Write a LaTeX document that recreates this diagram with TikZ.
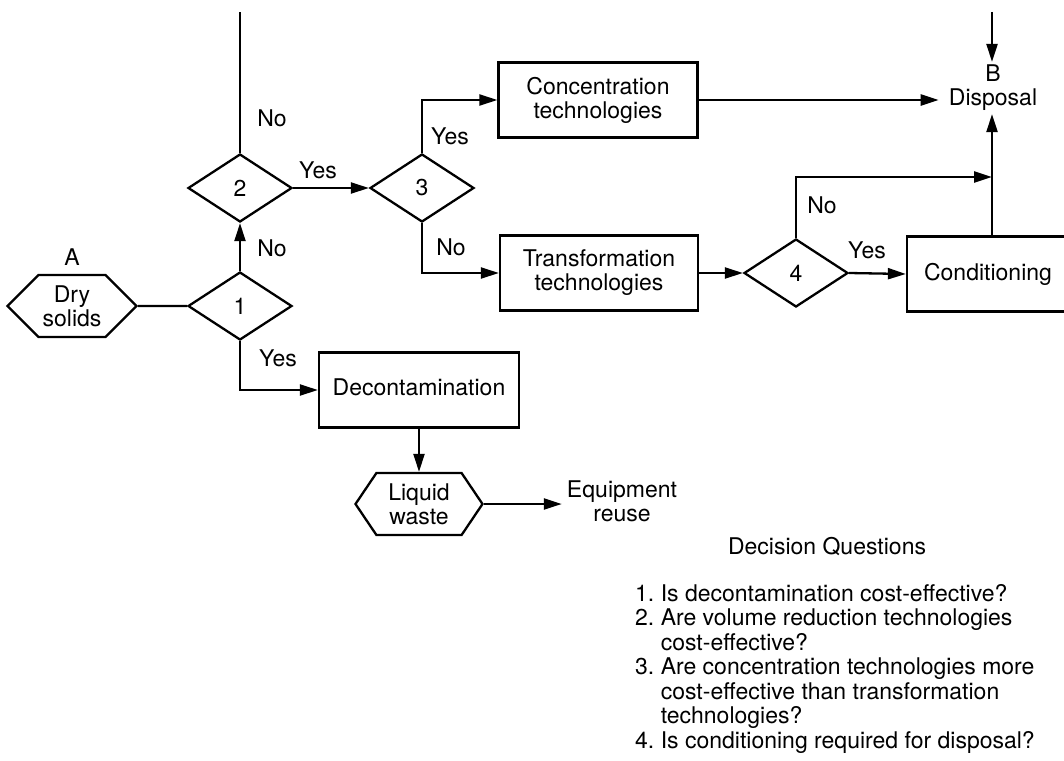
\documentclass[tikz,border=0pt]{standalone}
\usepackage{fontspec}
\setmainfont{TeX Gyre Heros}
\usepackage{tikz}
\usetikzlibrary{shapes.geometric, shapes.symbols, arrows.meta, calc}
\tikzset{
    box/.style={draw=black, line width=2.3pt, rectangle, minimum height=75pt, align=center, inner sep=0pt},
    decision/.style={draw=black, line width=2.3pt, diamond, minimum width=104pt, minimum height=68pt, inner sep=0pt},
    terminal/.style={draw=black, line width=2.3pt, signal, signal to=west and east, minimum height=62pt, align=center, inner sep=0pt},
    lbl/.style={inner sep=1pt, align=center},
    flow/.style={line width=2.3pt, -{Triangle[length=18pt, width=11pt]}},
    link/.style={line width=2.3pt}
}

\begin{document}
\begin{tikzpicture}[x=1pt, y=-1pt, font=\fontsize{23}{24}\selectfont]
    \useasboundingbox (0,0) rectangle (1064,760);

    \node[terminal, minimum width=129pt, signal pointer angle=90] (dry) at (72,306) {Dry\\solids};
    \node[lbl] (labA) at (72,257) {A};
    \node[decision] (q1) at (240,306) {1};
    \node[decision] (q2) at (240,188) {2};
    \node[decision] (q3) at (422,188) {3};
    \node[decision] (q4) at (796,273) {4};
    \node[box, minimum width=199pt] (conc) at (598,100) {Concentration\\technologies};
    \node[box, minimum width=198pt] (trans) at (599,273) {Transformation\\technologies};
    \node[box, minimum width=180pt] (cond) at (997,274) {\hspace*{-18pt}Conditioning};
    \node[box, minimum width=200pt] (decon) at (419,390) {\raisebox{5pt}{Decontamination}};
    \node[terminal, minimum width=127pt, signal pointer angle=112] (liquid) at (419,504) {Liquid\\waste};
    \node[lbl, inner xsep=5pt] (reuse) at (622,501) {Equipment\\reuse};
    \node[lbl, inner xsep=10pt, inner ysep=3pt] (disp) at (993,88) {B\\Disposal};
    \coordinate (topA) at (240,12);
    \coordinate (topB) at (992,12);
    \coordinate (join) at (992,177);

    \draw[link] (dry) -- (q1);
    \draw[flow] (q1.north) -- (q2.south);
    \draw[link] (q2.north) -- (topA);
    \draw[flow] (q2.east) -- (q3.west);
    \draw[flow] (q3.north) |- (conc.west);
    \draw[flow] (q3.south) |- (trans.west);
    \draw[flow] (trans.east) -- (q4.west);
    \draw[flow] (q4.east) -- (cond.west);
    \draw[flow] (q4.north) |- (join);
    \draw[flow] (cond.north -| join) -- (join |- disp.south);
    \draw[flow] (conc.east) -- (conc.east -| disp.west);
    \draw[flow] (topB) -- (topB |- disp.north);
    \draw[flow] (q1.south) |- (decon.west);
    \draw[flow] (decon.south) -- (liquid.north);
    \draw[flow] (liquid.east) -- (liquid.east -| reuse.west);

    \node[lbl] (no12) at (272,248) {No};
    \node[lbl] (no2) at (272,118) {No};
    \node[lbl] (yes23) at (318,170) {Yes};
    \node[lbl] (yes3) at (450,136) {Yes};
    \node[lbl] (no3) at (451,247) {No};
    \node[lbl] (yes1) at (278,358) {Yes};
    \node[lbl] (no4) at (822,205) {No};
    \node[lbl] (yes4) at (867,250) {Yes};

    \node[lbl] (dqtitle) at (827,547) {Decision Questions};
    \node[lbl, anchor=north west, align=left, font=\fontsize{23}{24.5}\selectfont] (dqlist) at (634,583)
        {1.\ Is decontamination cost-effective?\\
         2.\ Are volume reduction technologies\\
         \hphantom{2.\ }cost-effective?\\
         3.\ Are concentration technologies more\\
         \hphantom{3.\ }cost-effective than transformation\\
         \hphantom{3.\ }technologies?\\
         4.\ Is conditioning required for disposal?};
\end{tikzpicture}
\end{document}
